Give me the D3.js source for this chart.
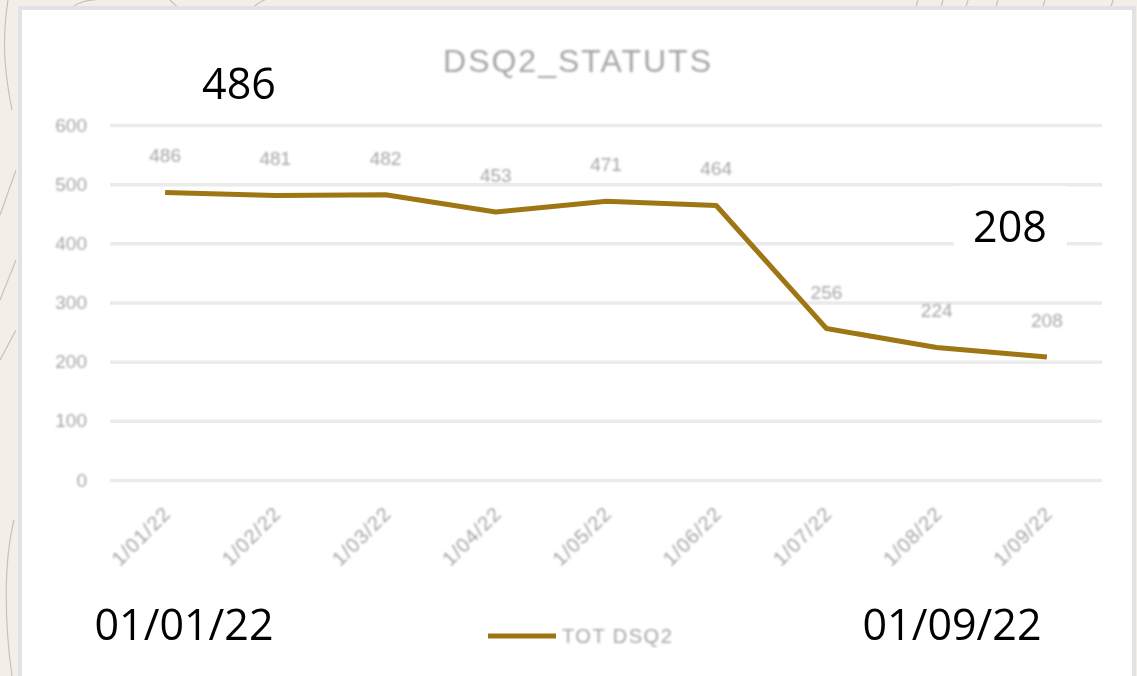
<!DOCTYPE html>
<html>
<head>
<meta charset="utf-8">
<script src="https://cdn.jsdelivr.net/npm/d3@7"></script>
<style>
  body { margin: 0; background: #f3efe8; }
  svg { display: block; }
  .blurry text { font-family: "Liberation Sans", Arial, sans-serif; fill: #a6a6a6; }
  .big { font-family: "Open Sans", "Noto Sans", sans-serif; fill: #000; font-size: 43px; }
</style>
</head>
<body>
<div id="chart"></div>
<script>
// chart data
var categories = ["1/01/22", "1/02/22", "1/03/22", "1/04/22", "1/05/22", "1/06/22", "1/07/22", "1/08/22", "1/09/22"];
var values = [486, 481, 482, 453, 471, 464, 256, 224, 208];
var yTicks = [0, 100, 200, 300, 400, 500, 600];
var title = "DSQ2_STATUTS";
var seriesName = "TOT DSQ2";
var callouts = ["486", "208", "01/01/22", "01/09/22"];

var W = 1137, H = 676;
var plot = {l:110, r:1102, t:125, b:480};

var svg = d3.select('#chart').append('svg')
    .attr('width', W)
    .attr('height', H);

// sketchy paper background
var bg = svg.append('g').attr('fill', 'none').attr('stroke', '#c9c1b3').attr('stroke-width', 1.2);
bg.append('path').attr('d', 'M8,0 C2,40 4,70 12,110');
bg.append('path').attr('d', 'M16,170 L0,215');
bg.append('path').attr('d', 'M16,260 L0,300');
bg.append('path').attr('d', 'M16,330 L0,360');
bg.append('path').attr('d', 'M14,520 C4,560 4,620 12,676');
bg.append('path').attr('d', 'M70,10 C75,2 90,0 95,0');
bg.append('path').attr('d', 'M170,0 C175,5 178,8 182,10');
bg.append('path').attr('d', 'M250,10 C258,3 262,0 265,0');
[915, 940, 965, 995, 1042, 1110].forEach(function(x) {
  bg.append('path').attr('d', 'M' + x + ',10 L' + (x + 3) + ',0');
});

// white panel
svg.append('rect')
    .attr('x', 20).attr('y', 8)
    .attr('width', 1114).attr('height', 680)
    .attr('fill', '#ffffff')
    .attr('stroke', '#e2e2e6')
    .attr('stroke-width', 4);

var defs = svg.append('defs');
defs.append('filter').attr('id', 'soft')
    .append('feGaussianBlur').attr('stdDeviation', 1.1);

var xScale = d3.scaleBand()
    .domain(categories)
    .range([plot.l, plot.r]);

var yScale = d3.scaleLinear()
    .domain([0, 600])
    .range([plot.b, plot.t]);

// gridlines
svg.append('g')
    .attr('transform', 'translate(' + plot.l + ',0)')
    .call(d3.axisLeft(yScale).tickValues(yTicks).tickSize(-(plot.r - plot.l)).tickFormat(''))
    .call(g => g.select('.domain').remove())
    .call(g => g.selectAll('line').attr('stroke', '#ebebeb').attr('stroke-width', 3.5));

var soft = svg.append('g').attr('class', 'blurry').attr('filter', 'url(#soft)');

// y axis labels
soft.append('g')
    .attr('transform', 'translate(87,0)')
    .call(d3.axisLeft(yScale).tickValues(yTicks).tickSize(0).tickPadding(0))
    .call(g => g.select('.domain').remove())
    .call(g => g.selectAll('text').attr('font-size', 19).attr('fill', '#a6a6a6').attr('font-family', null));

// x axis labels, rotated
soft.append('g')
    .attr('transform', 'translate(0,' + (plot.b + 30) + ')')
    .call(d3.axisBottom(xScale).tickSize(0).tickPadding(0))
    .call(g => g.select('.domain').remove())
    .call(g => g.selectAll('text')
        .attr('font-size', 20)
        .attr('letter-spacing', 1)
        .attr('fill', '#a6a6a6')
        .attr('font-family', null)
        .attr('text-anchor', 'end')
        .attr('dy', '0.35em')
        .attr('transform', 'translate(2,0) rotate(-45)'));

// title
soft.append('text')
    .attr('x', 578).attr('y', 72)
    .attr('text-anchor', 'middle')
    .attr('font-size', 32)
    .attr('letter-spacing', 2)
    .attr('fill', '#999999')
    .text(title);

var cx = function(d, i) { return xScale(categories[i]) + xScale.bandwidth() / 2; };

// the line
var line = d3.line()
    .x(cx)
    .y(d => yScale(d));

svg.append('path')
    .datum(values)
    .attr('d', line)
    .attr('fill', 'none')
    .attr('stroke', '#9e7714')
    .attr('stroke-width', 5)
    .attr('stroke-linejoin', 'round');

// data labels
soft.append('g').selectAll('text')
    .data(values).enter()
    .append('text')
    .attr('x', cx)
    .attr('y', d => yScale(d) - 30)
    .attr('text-anchor', 'middle')
    .attr('font-size', 19)
    .text(d => d);

// legend
svg.append('line')
    .attr('x1', 488).attr('x2', 556)
    .attr('y1', 636).attr('y2', 636)
    .attr('stroke', '#9e7714')
    .attr('stroke-width', 5);
soft.append('text')
    .attr('x', 562).attr('y', 643)
    .attr('font-size', 20)
    .attr('letter-spacing', 1.5)
    .text(seriesName);

// big overlay callouts
svg.append('text').attr('class', 'big')
    .attr('x', 239).attr('y', 99)
    .attr('text-anchor', 'middle')
    .text(callouts[0]);

svg.append('rect')
    .attr('x', 954).attr('y', 186)
    .attr('width', 113).attr('height', 74)
    .attr('fill', '#ffffff');
svg.append('text').attr('class', 'big')
    .attr('x', 1010).attr('y', 242)
    .attr('text-anchor', 'middle')
    .text(callouts[1]);

svg.append('text').attr('class', 'big')
    .attr('x', 184).attr('y', 640)
    .attr('text-anchor', 'middle')
    .text(callouts[2]);
svg.append('text').attr('class', 'big')
    .attr('x', 952).attr('y', 640)
    .attr('text-anchor', 'middle')
    .text(callouts[3]);
</script>
</body>
</html>
